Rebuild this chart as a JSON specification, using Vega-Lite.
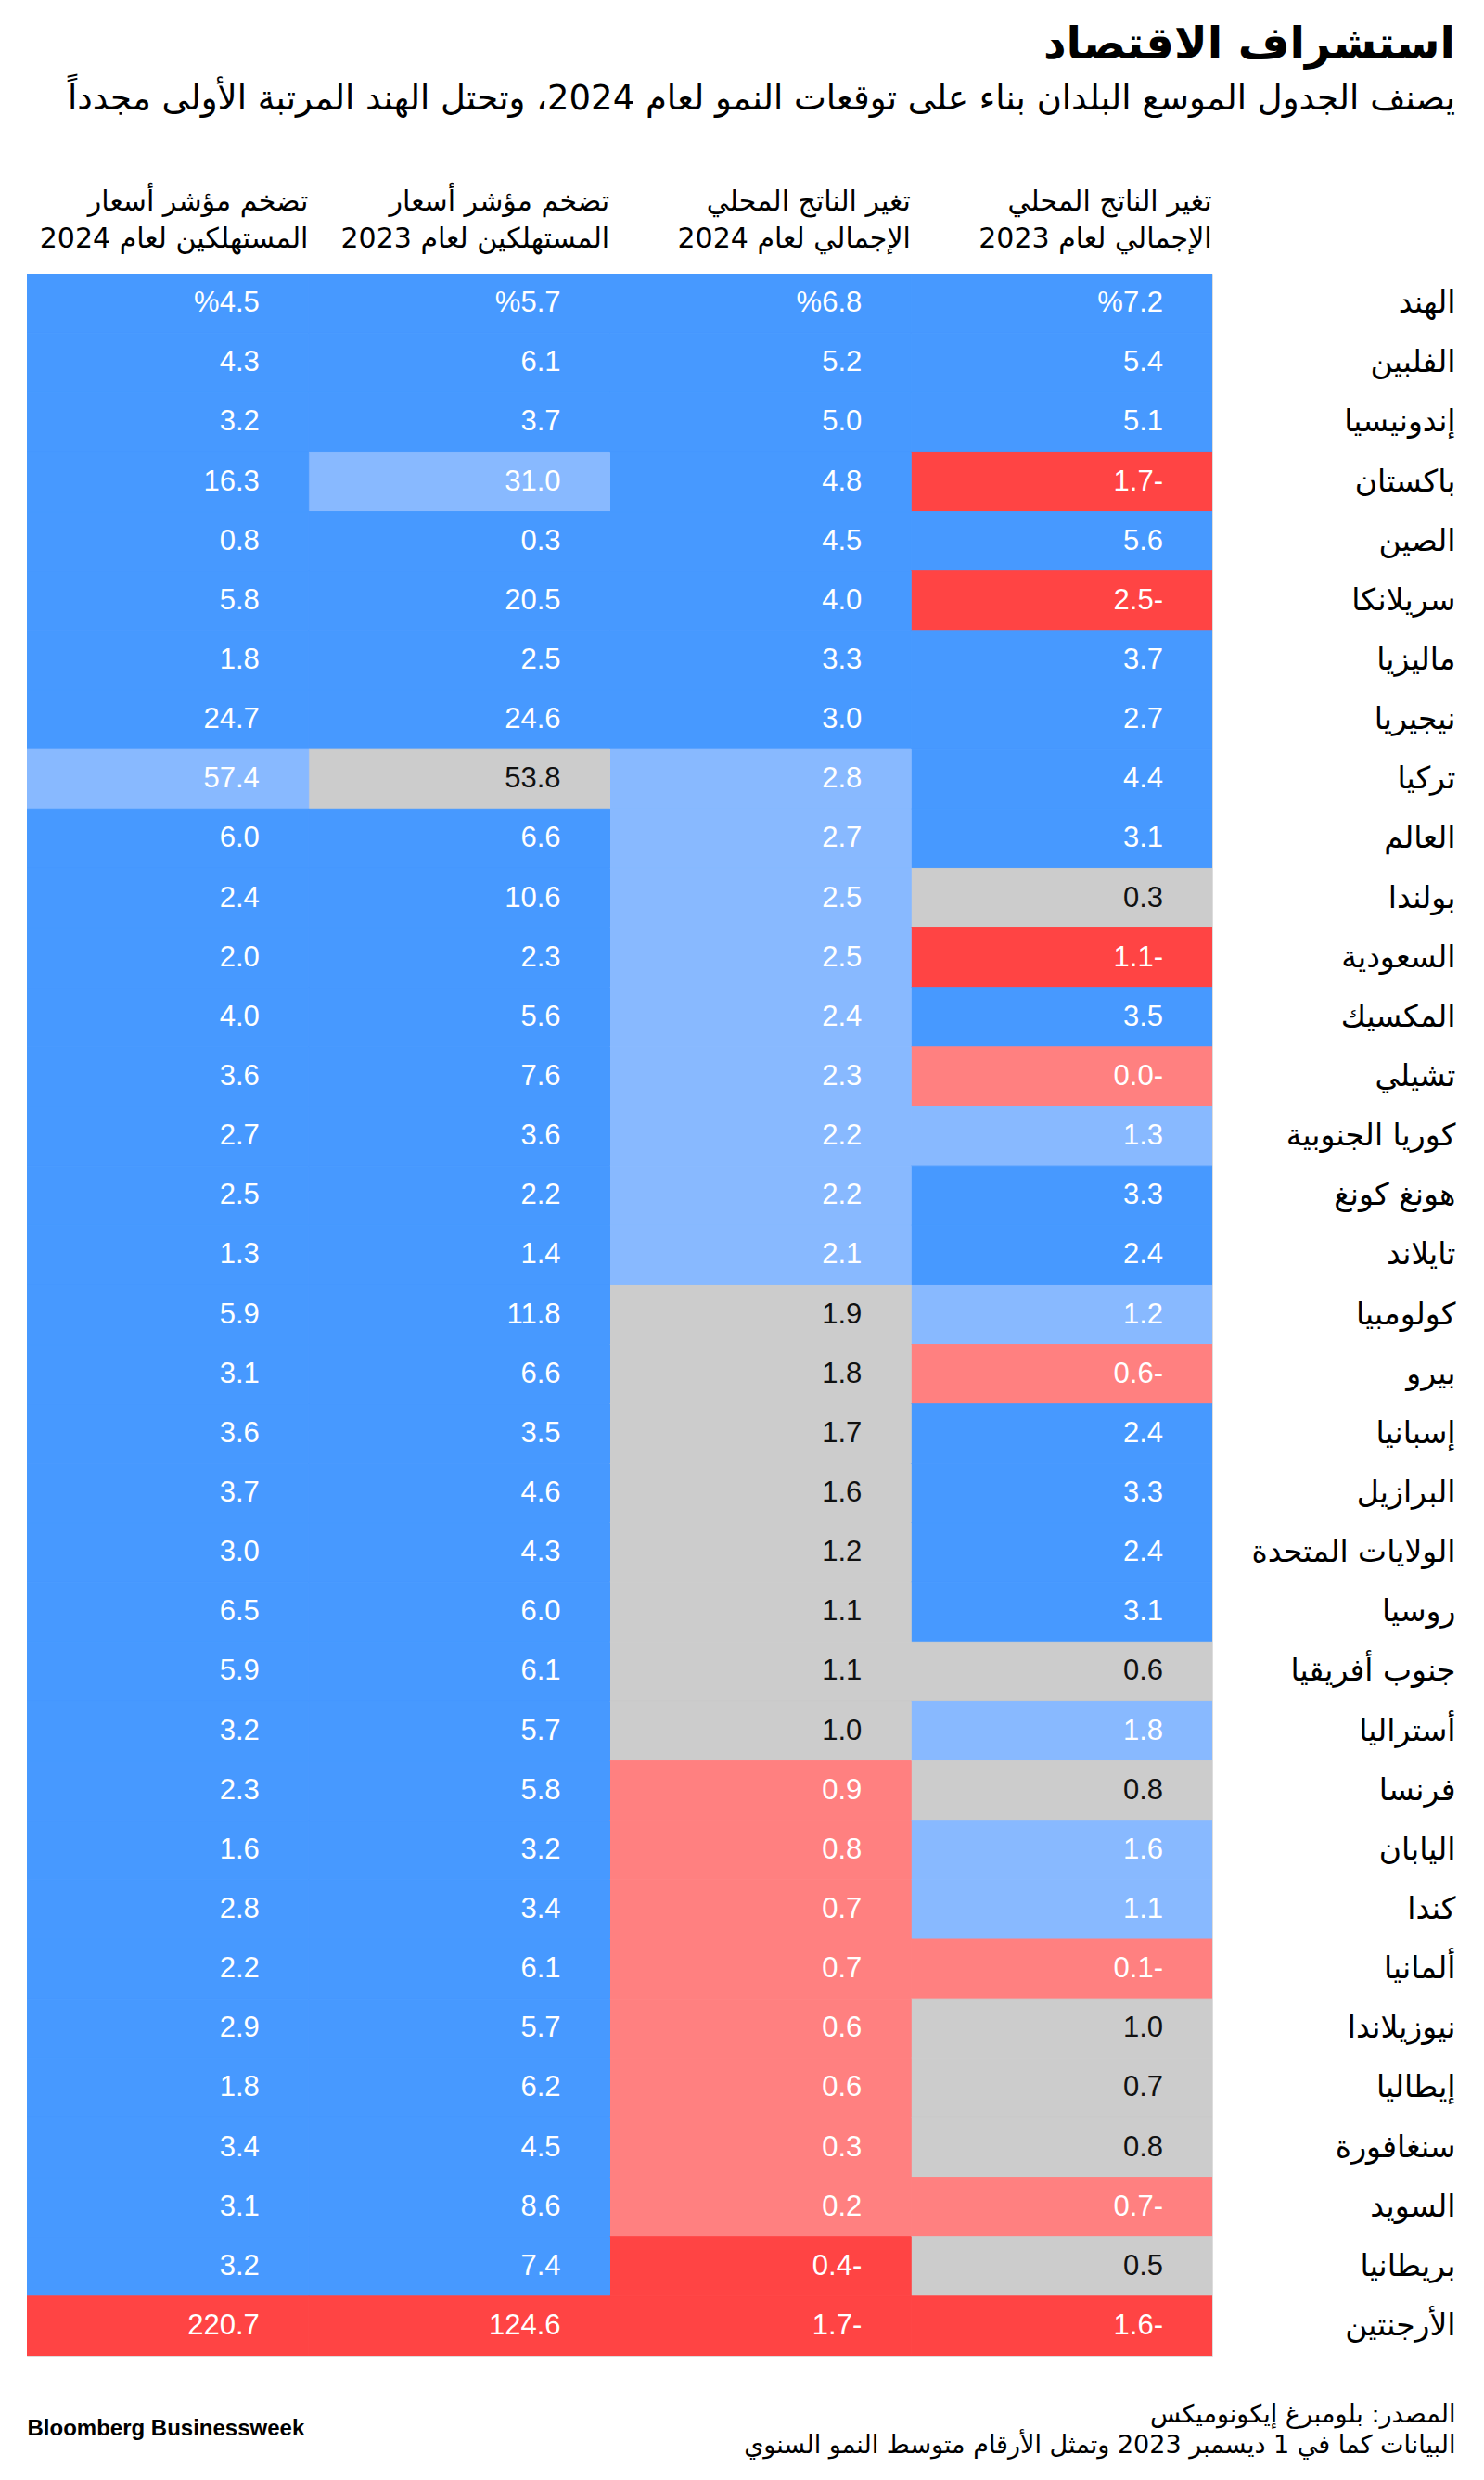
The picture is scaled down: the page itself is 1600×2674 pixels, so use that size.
{
"$schema": "https://vega.github.io/schema/vega-lite/v6.json",
"autosize": {"type": "none"},
"width": 1278,
"height": 2245,
"padding": {"left": 29, "top": 295, "right": 293, "bottom": 134},
"background": "white",
"title": {
  "text": "استشراف الاقتصاد",
  "subtitle": "يصنف الجدول الموسع البلدان بناء على توقعات النمو لعام 2024، وتحتل الهند المرتبة الأولى مجدداً",
  "anchor": "end", "frame": "group", "dx": 262, "offset": 77,
  "font": "DejaVu Sans", "fontSize": 48, "fontWeight": "bold", "color": "#000000",
  "subtitleFont": "DejaVu Sans", "subtitleFontSize": 37, "subtitleColor": "#000000", "subtitlePadding": 16
},
"data": {"values": [
{"n":"الهند","r":1,"k":"g23","v":7.2,"t":"%7.2","c":"b"},{"n":"الهند","r":1,"k":"g24","v":6.8,"t":"%6.8","c":"b"},{"n":"الهند","r":1,"k":"c23","v":5.7,"t":"%5.7","c":"b"},{"n":"الهند","r":1,"k":"c24","v":4.5,"t":"%4.5","c":"b"},
{"n":"الفلبين","r":2,"k":"g23","v":5.4,"t":"5.4","c":"b"},{"n":"الفلبين","r":2,"k":"g24","v":5.2,"t":"5.2","c":"b"},{"n":"الفلبين","r":2,"k":"c23","v":6.1,"t":"6.1","c":"b"},{"n":"الفلبين","r":2,"k":"c24","v":4.3,"t":"4.3","c":"b"},
{"n":"إندونيسيا","r":3,"k":"g23","v":5.1,"t":"5.1","c":"b"},{"n":"إندونيسيا","r":3,"k":"g24","v":5.0,"t":"5.0","c":"b"},{"n":"إندونيسيا","r":3,"k":"c23","v":3.7,"t":"3.7","c":"b"},{"n":"إندونيسيا","r":3,"k":"c24","v":3.2,"t":"3.2","c":"b"},
{"n":"باكستان","r":4,"k":"g23","v":-1.7,"t":"1.7-","c":"r"},{"n":"باكستان","r":4,"k":"g24","v":4.8,"t":"4.8","c":"b"},{"n":"باكستان","r":4,"k":"c23","v":31.0,"t":"31.0","c":"lb"},{"n":"باكستان","r":4,"k":"c24","v":16.3,"t":"16.3","c":"b"},
{"n":"الصين","r":5,"k":"g23","v":5.6,"t":"5.6","c":"b"},{"n":"الصين","r":5,"k":"g24","v":4.5,"t":"4.5","c":"b"},{"n":"الصين","r":5,"k":"c23","v":0.3,"t":"0.3","c":"b"},{"n":"الصين","r":5,"k":"c24","v":0.8,"t":"0.8","c":"b"},
{"n":"سريلانكا","r":6,"k":"g23","v":-2.5,"t":"2.5-","c":"r"},{"n":"سريلانكا","r":6,"k":"g24","v":4.0,"t":"4.0","c":"b"},{"n":"سريلانكا","r":6,"k":"c23","v":20.5,"t":"20.5","c":"b"},{"n":"سريلانكا","r":6,"k":"c24","v":5.8,"t":"5.8","c":"b"},
{"n":"ماليزيا","r":7,"k":"g23","v":3.7,"t":"3.7","c":"b"},{"n":"ماليزيا","r":7,"k":"g24","v":3.3,"t":"3.3","c":"b"},{"n":"ماليزيا","r":7,"k":"c23","v":2.5,"t":"2.5","c":"b"},{"n":"ماليزيا","r":7,"k":"c24","v":1.8,"t":"1.8","c":"b"},
{"n":"نيجيريا","r":8,"k":"g23","v":2.7,"t":"2.7","c":"b"},{"n":"نيجيريا","r":8,"k":"g24","v":3.0,"t":"3.0","c":"b"},{"n":"نيجيريا","r":8,"k":"c23","v":24.6,"t":"24.6","c":"b"},{"n":"نيجيريا","r":8,"k":"c24","v":24.7,"t":"24.7","c":"b"},
{"n":"تركيا","r":9,"k":"g23","v":4.4,"t":"4.4","c":"b"},{"n":"تركيا","r":9,"k":"g24","v":2.8,"t":"2.8","c":"lb"},{"n":"تركيا","r":9,"k":"c23","v":53.8,"t":"53.8","c":"g"},{"n":"تركيا","r":9,"k":"c24","v":57.4,"t":"57.4","c":"lb"},
{"n":"العالم","r":10,"k":"g23","v":3.1,"t":"3.1","c":"b"},{"n":"العالم","r":10,"k":"g24","v":2.7,"t":"2.7","c":"lb"},{"n":"العالم","r":10,"k":"c23","v":6.6,"t":"6.6","c":"b"},{"n":"العالم","r":10,"k":"c24","v":6.0,"t":"6.0","c":"b"},
{"n":"بولندا","r":11,"k":"g23","v":0.3,"t":"0.3","c":"g"},{"n":"بولندا","r":11,"k":"g24","v":2.5,"t":"2.5","c":"lb"},{"n":"بولندا","r":11,"k":"c23","v":10.6,"t":"10.6","c":"b"},{"n":"بولندا","r":11,"k":"c24","v":2.4,"t":"2.4","c":"b"},
{"n":"السعودية","r":12,"k":"g23","v":-1.1,"t":"1.1-","c":"r"},{"n":"السعودية","r":12,"k":"g24","v":2.5,"t":"2.5","c":"lb"},{"n":"السعودية","r":12,"k":"c23","v":2.3,"t":"2.3","c":"b"},{"n":"السعودية","r":12,"k":"c24","v":2.0,"t":"2.0","c":"b"},
{"n":"المكسيك","r":13,"k":"g23","v":3.5,"t":"3.5","c":"b"},{"n":"المكسيك","r":13,"k":"g24","v":2.4,"t":"2.4","c":"lb"},{"n":"المكسيك","r":13,"k":"c23","v":5.6,"t":"5.6","c":"b"},{"n":"المكسيك","r":13,"k":"c24","v":4.0,"t":"4.0","c":"b"},
{"n":"تشيلي","r":14,"k":"g23","v":-0.0,"t":"0.0-","c":"lr"},{"n":"تشيلي","r":14,"k":"g24","v":2.3,"t":"2.3","c":"lb"},{"n":"تشيلي","r":14,"k":"c23","v":7.6,"t":"7.6","c":"b"},{"n":"تشيلي","r":14,"k":"c24","v":3.6,"t":"3.6","c":"b"},
{"n":"كوريا الجنوبية","r":15,"k":"g23","v":1.3,"t":"1.3","c":"lb"},{"n":"كوريا الجنوبية","r":15,"k":"g24","v":2.2,"t":"2.2","c":"lb"},{"n":"كوريا الجنوبية","r":15,"k":"c23","v":3.6,"t":"3.6","c":"b"},{"n":"كوريا الجنوبية","r":15,"k":"c24","v":2.7,"t":"2.7","c":"b"},
{"n":"هونغ كونغ","r":16,"k":"g23","v":3.3,"t":"3.3","c":"b"},{"n":"هونغ كونغ","r":16,"k":"g24","v":2.2,"t":"2.2","c":"lb"},{"n":"هونغ كونغ","r":16,"k":"c23","v":2.2,"t":"2.2","c":"b"},{"n":"هونغ كونغ","r":16,"k":"c24","v":2.5,"t":"2.5","c":"b"},
{"n":"تايلاند","r":17,"k":"g23","v":2.4,"t":"2.4","c":"b"},{"n":"تايلاند","r":17,"k":"g24","v":2.1,"t":"2.1","c":"lb"},{"n":"تايلاند","r":17,"k":"c23","v":1.4,"t":"1.4","c":"b"},{"n":"تايلاند","r":17,"k":"c24","v":1.3,"t":"1.3","c":"b"},
{"n":"كولومبيا","r":18,"k":"g23","v":1.2,"t":"1.2","c":"lb"},{"n":"كولومبيا","r":18,"k":"g24","v":1.9,"t":"1.9","c":"g"},{"n":"كولومبيا","r":18,"k":"c23","v":11.8,"t":"11.8","c":"b"},{"n":"كولومبيا","r":18,"k":"c24","v":5.9,"t":"5.9","c":"b"},
{"n":"بيرو","r":19,"k":"g23","v":-0.6,"t":"0.6-","c":"lr"},{"n":"بيرو","r":19,"k":"g24","v":1.8,"t":"1.8","c":"g"},{"n":"بيرو","r":19,"k":"c23","v":6.6,"t":"6.6","c":"b"},{"n":"بيرو","r":19,"k":"c24","v":3.1,"t":"3.1","c":"b"},
{"n":"إسبانيا","r":20,"k":"g23","v":2.4,"t":"2.4","c":"b"},{"n":"إسبانيا","r":20,"k":"g24","v":1.7,"t":"1.7","c":"g"},{"n":"إسبانيا","r":20,"k":"c23","v":3.5,"t":"3.5","c":"b"},{"n":"إسبانيا","r":20,"k":"c24","v":3.6,"t":"3.6","c":"b"},
{"n":"البرازيل","r":21,"k":"g23","v":3.3,"t":"3.3","c":"b"},{"n":"البرازيل","r":21,"k":"g24","v":1.6,"t":"1.6","c":"g"},{"n":"البرازيل","r":21,"k":"c23","v":4.6,"t":"4.6","c":"b"},{"n":"البرازيل","r":21,"k":"c24","v":3.7,"t":"3.7","c":"b"},
{"n":"الولايات المتحدة","r":22,"k":"g23","v":2.4,"t":"2.4","c":"b"},{"n":"الولايات المتحدة","r":22,"k":"g24","v":1.2,"t":"1.2","c":"g"},{"n":"الولايات المتحدة","r":22,"k":"c23","v":4.3,"t":"4.3","c":"b"},{"n":"الولايات المتحدة","r":22,"k":"c24","v":3.0,"t":"3.0","c":"b"},
{"n":"روسيا","r":23,"k":"g23","v":3.1,"t":"3.1","c":"b"},{"n":"روسيا","r":23,"k":"g24","v":1.1,"t":"1.1","c":"g"},{"n":"روسيا","r":23,"k":"c23","v":6.0,"t":"6.0","c":"b"},{"n":"روسيا","r":23,"k":"c24","v":6.5,"t":"6.5","c":"b"},
{"n":"جنوب أفريقيا","r":24,"k":"g23","v":0.6,"t":"0.6","c":"g"},{"n":"جنوب أفريقيا","r":24,"k":"g24","v":1.1,"t":"1.1","c":"g"},{"n":"جنوب أفريقيا","r":24,"k":"c23","v":6.1,"t":"6.1","c":"b"},{"n":"جنوب أفريقيا","r":24,"k":"c24","v":5.9,"t":"5.9","c":"b"},
{"n":"أستراليا","r":25,"k":"g23","v":1.8,"t":"1.8","c":"lb"},{"n":"أستراليا","r":25,"k":"g24","v":1.0,"t":"1.0","c":"g"},{"n":"أستراليا","r":25,"k":"c23","v":5.7,"t":"5.7","c":"b"},{"n":"أستراليا","r":25,"k":"c24","v":3.2,"t":"3.2","c":"b"},
{"n":"فرنسا","r":26,"k":"g23","v":0.8,"t":"0.8","c":"g"},{"n":"فرنسا","r":26,"k":"g24","v":0.9,"t":"0.9","c":"lr"},{"n":"فرنسا","r":26,"k":"c23","v":5.8,"t":"5.8","c":"b"},{"n":"فرنسا","r":26,"k":"c24","v":2.3,"t":"2.3","c":"b"},
{"n":"اليابان","r":27,"k":"g23","v":1.6,"t":"1.6","c":"lb"},{"n":"اليابان","r":27,"k":"g24","v":0.8,"t":"0.8","c":"lr"},{"n":"اليابان","r":27,"k":"c23","v":3.2,"t":"3.2","c":"b"},{"n":"اليابان","r":27,"k":"c24","v":1.6,"t":"1.6","c":"b"},
{"n":"كندا","r":28,"k":"g23","v":1.1,"t":"1.1","c":"lb"},{"n":"كندا","r":28,"k":"g24","v":0.7,"t":"0.7","c":"lr"},{"n":"كندا","r":28,"k":"c23","v":3.4,"t":"3.4","c":"b"},{"n":"كندا","r":28,"k":"c24","v":2.8,"t":"2.8","c":"b"},
{"n":"ألمانيا","r":29,"k":"g23","v":-0.1,"t":"0.1-","c":"lr"},{"n":"ألمانيا","r":29,"k":"g24","v":0.7,"t":"0.7","c":"lr"},{"n":"ألمانيا","r":29,"k":"c23","v":6.1,"t":"6.1","c":"b"},{"n":"ألمانيا","r":29,"k":"c24","v":2.2,"t":"2.2","c":"b"},
{"n":"نيوزيلاندا","r":30,"k":"g23","v":1.0,"t":"1.0","c":"g"},{"n":"نيوزيلاندا","r":30,"k":"g24","v":0.6,"t":"0.6","c":"lr"},{"n":"نيوزيلاندا","r":30,"k":"c23","v":5.7,"t":"5.7","c":"b"},{"n":"نيوزيلاندا","r":30,"k":"c24","v":2.9,"t":"2.9","c":"b"},
{"n":"إيطاليا","r":31,"k":"g23","v":0.7,"t":"0.7","c":"g"},{"n":"إيطاليا","r":31,"k":"g24","v":0.6,"t":"0.6","c":"lr"},{"n":"إيطاليا","r":31,"k":"c23","v":6.2,"t":"6.2","c":"b"},{"n":"إيطاليا","r":31,"k":"c24","v":1.8,"t":"1.8","c":"b"},
{"n":"سنغافورة","r":32,"k":"g23","v":0.8,"t":"0.8","c":"g"},{"n":"سنغافورة","r":32,"k":"g24","v":0.3,"t":"0.3","c":"lr"},{"n":"سنغافورة","r":32,"k":"c23","v":4.5,"t":"4.5","c":"b"},{"n":"سنغافورة","r":32,"k":"c24","v":3.4,"t":"3.4","c":"b"},
{"n":"السويد","r":33,"k":"g23","v":-0.7,"t":"0.7-","c":"lr"},{"n":"السويد","r":33,"k":"g24","v":0.2,"t":"0.2","c":"lr"},{"n":"السويد","r":33,"k":"c23","v":8.6,"t":"8.6","c":"b"},{"n":"السويد","r":33,"k":"c24","v":3.1,"t":"3.1","c":"b"},
{"n":"بريطانيا","r":34,"k":"g23","v":0.5,"t":"0.5","c":"g"},{"n":"بريطانيا","r":34,"k":"g24","v":-0.4,"t":"0.4-","c":"r"},{"n":"بريطانيا","r":34,"k":"c23","v":7.4,"t":"7.4","c":"b"},{"n":"بريطانيا","r":34,"k":"c24","v":3.2,"t":"3.2","c":"b"},
{"n":"الأرجنتين","r":35,"k":"g23","v":-1.6,"t":"1.6-","c":"r"},{"n":"الأرجنتين","r":35,"k":"g24","v":-1.7,"t":"1.7-","c":"r"},{"n":"الأرجنتين","r":35,"k":"c23","v":124.6,"t":"124.6","c":"r"},{"n":"الأرجنتين","r":35,"k":"c24","v":220.7,"t":"220.7","c":"r"}
]},
"resolve": {"axis": {"x": "independent", "y": "independent"}},
"layer": [
{
  "mark": {"type": "rect", "strokeWidth": 1, "clip": true},
  "encoding": {
    "x": {"field": "k", "type": "nominal", "sort": ["c24", "c23", "g24", "g23"],
      "scale": {"paddingInner": 0, "paddingOuter": 0, "range": [-21, 1278]},
      "axis": {"orient": "top", "title": null, "ticks": false, "domain": false, "labelOffset": 162,
        "labelAlign": "right", "labelBaseline": "bottom", "labelPadding": 63, "labelOverlap": false, "labelLimit": 500,
        "labelFont": "DejaVu Sans", "labelFontSize": 30, "labelColor": "#000000", "labelLineHeight": 40, "labelAngle": 0,
        "labelExpr": "datum.value == 'c24' ? ['تضخم مؤشر أسعار', 'المستهلكين لعام 2024'] : datum.value == 'c23' ? ['تضخم مؤشر أسعار', 'المستهلكين لعام 2023'] : datum.value == 'g24' ? ['تغير الناتج المحلي', 'الإجمالي لعام 2024'] : ['تغير الناتج المحلي', 'الإجمالي لعام 2023']"}},
    "y": {"field": "n", "type": "nominal", "sort": {"field": "r", "op": "min"},
      "scale": {"paddingInner": 0, "paddingOuter": 0},
      "axis": {"orient": "right", "title": null, "ticks": false, "domain": false,
        "labelAlign": "right", "labelBaseline": "middle", "labelPadding": 262, "labelOverlap": false, "labelLimit": 500,
        "labelFont": "DejaVu Sans", "labelFontSize": 33, "labelColor": "#000000"}},
    "color": {"field": "c", "type": "nominal", "legend": null,
      "scale": {"domain": ["b", "lb", "g", "lr", "r"], "range": ["#4799ff", "#88b9ff", "#cccccc", "#ff8080", "#ff4444"]}},
    "stroke": {"field": "c", "type": "nominal", "legend": null,
      "scale": {"domain": ["b", "lb", "g", "lr", "r"], "range": ["#4799ff", "#88b9ff", "#cccccc", "#ff8080", "#ff4444"]}}
  }
},
{
  "mark": {"type": "text", "align": "right", "baseline": "middle", "dx": -53, "font": "Liberation Sans", "fontSize": 31},
  "encoding": {
    "x": {"field": "k", "type": "nominal", "sort": ["c24", "c23", "g24", "g23"], "bandPosition": 1,
      "axis": {"orient": "bottom", "labels": false, "ticks": false, "domain": false,
        "title": ["المصدر: بلومبرغ إيكونوميكس", "البيانات كما في 1 ديسمبر 2023 وتمثل الأرقام متوسط النمو السنوي"],
        "titleAnchor": "end", "titleAlign": "right", "titleBaseline": "top", "titleX": 1540, "titleY": 50,
        "titleFont": "DejaVu Sans", "titleFontSize": 27, "titleFontWeight": "normal", "titleColor": "#000000", "titleLineHeight": 33}},
    "y": {"field": "n", "type": "nominal", "sort": {"field": "r", "op": "min"},
      "axis": {"orient": "left", "labels": false, "ticks": false, "domain": false,
        "title": "Bloomberg Businessweek", "titleAngle": 0, "titleAlign": "left", "titleBaseline": "middle",
        "titleX": 0, "titleY": 2323, "titleFont": "Liberation Sans", "titleFontSize": 24, "titleFontWeight": "bold", "titleColor": "#000000"}},
    "text": {"field": "t", "type": "nominal"},
    "color": {"condition": {"test": "datum.c === 'g'", "value": "#111111"}, "value": "#ffffff"}
  }
}
]
}
